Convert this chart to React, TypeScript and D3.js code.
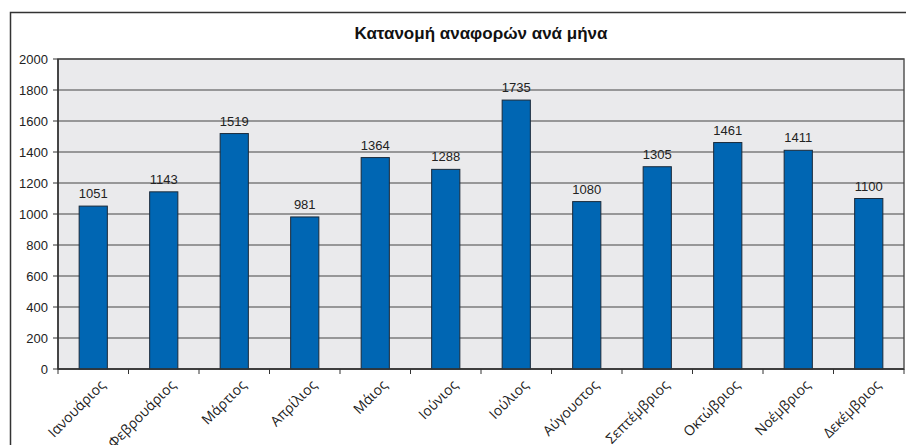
import React from "react";
import * as d3 from "d3";

const months = ["Ιανουάριος","Φεβρουάριος","Μάρτιος","Απρίλιος","Μάιος","Ιούνιος","Ιούλιος","Αύγουστος","Σεπτέμβριος","Οκτώβριος","Νοέμβριος","Δεκέμβριος"];
const counts = [1051,1143,1519,981,1364,1288,1735,1080,1305,1461,1411,1100];
const yTicks = [0,200,400,600,800,1000,1200,1400,1600,1800,2000];
const title = "Κατανομή αναφορών ανά μήνα";

export default function App() {
  const W = 906, H = 445;
  const left = 58, right = 904, top = 59, bottom = 369;
  const x = d3.scaleBand<string>().domain(months).range([left, right]).paddingInner(0.6).paddingOuter(0.3);
  const xb = d3.scaleBand<string>().domain(months).range([left, right]);
  const y = d3.scaleLinear().domain([0, 2000]).range([bottom, top]);
  const font = "'Liberation Sans', Arial, sans-serif";
  return (
    <svg width={W} height={H} style={{ position: "fixed", left: 0, top: 0 }}>
      <rect x={0} y={0} width={W} height={H} fill="#fff" />
      <path d={`M10.5,${H} V12.5 H${W + 2}`} fill="none" stroke="#333" strokeWidth={1.5} />
      <text x={481} y={39} textAnchor="middle" fontFamily={font} fontWeight="bold" fontSize={17} fill="#111">{title}</text>
      <rect x={left} y={top} width={right - left} height={bottom - top} fill="#EAEAEC" stroke="#555" strokeWidth={1.5} />
      {yTicks.map(t => (
        <g key={t}>
          <line x1={left} x2={right} y1={y(t)} y2={y(t)} stroke="#444" strokeWidth={1.2} />
          <line x1={left - 5} x2={left} y1={y(t)} y2={y(t)} stroke="#333" />
          <text x={left - 10} y={y(t) + 4.5} textAnchor="end" fontFamily={font} fontSize={13} fill="#222">{t}</text>
        </g>
      ))}
      {months.map((m, i) => (
        <g key={m}>
          <rect x={x(m)} y={y(counts[i])} width={x.bandwidth()} height={bottom - y(counts[i])} fill="#0066B3" stroke="#1a2a3a" strokeWidth={1} />
          <text x={x(m)! + x.bandwidth() / 2} y={y(counts[i]) - 8} textAnchor="middle" fontFamily={font} fontSize={13} fill="#222">{counts[i]}</text>
        </g>
      ))}
      <line x1={left} x2={left} y1={top} y2={bottom} stroke="#333" strokeWidth={1.5} />
      <line x1={left} x2={right} y1={bottom} y2={bottom} stroke="#333" strokeWidth={1.5} />
      {months.map(m => (
        <line key={m} x1={xb(m)} x2={xb(m)} y1={bottom} y2={bottom + 5} stroke="#333" />
      ))}
      <line x1={right} x2={right} y1={bottom} y2={bottom + 5} stroke="#333" />
      {months.map(m => {
        const cx = xb(m)! + xb.bandwidth() / 2 + 6;
        const cy = bottom + 10;
        return (
          <text key={m} transform={`translate(${cx},${cy}) rotate(-45)`} textAnchor="end" dy="0.7em" fontFamily="'Open Sans', 'Noto Sans', sans-serif" fontSize={14} fill="#222">{m}</text>
        );
      })}
    </svg>
  );
}
